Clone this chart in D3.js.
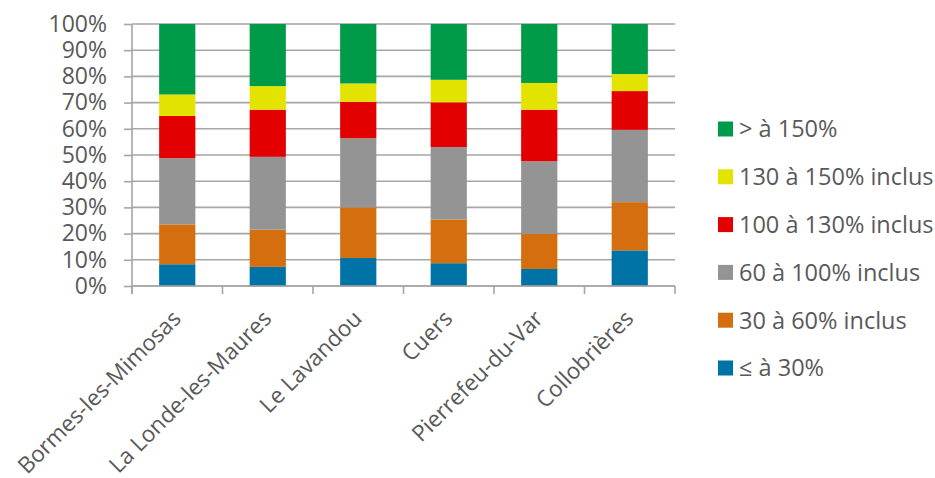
<!DOCTYPE html>
<html>
<head>
<meta charset="utf-8">
<script src="https://cdn.jsdelivr.net/npm/d3@7"></script>
<style>
  html, body { margin: 0; padding: 0; background: #ffffff; }
  svg { display: block; }
  text { font-family: "Open Sans", "Noto Sans", sans-serif; fill: #595959; }
</style>
</head>
<body>
<svg id="chart" width="935" height="478"></svg>
<script>
// Communes shown on the x axis
const categories = ["Bormes-les-Mimosas", "La Londe-les-Maures", "Le Lavandou", "Cuers", "Pierrefeu-du-Var", "Collobrières"];

// Share of each class per commune (in %), stacked bottom to top
const le30      = [8.3, 7.3, 10.7, 8.7, 6.5, 13.6];
const from30    = [15.2, 14.2, 19.3, 16.7, 13.4, 18.4];
const from60    = [25.3, 27.8, 26.4, 27.6, 27.7, 27.6];
const from100   = [16.1, 18.0, 13.9, 17.1, 19.7, 14.8];
const from130   = [8.2, 9.0, 7.0, 8.6, 10.2, 6.5];
const gt150     = [26.9, 23.7, 22.7, 21.3, 22.5, 19.1];

const seriesNames = ["≤ à 30%", "30 à 60% inclus", "60 à 100% inclus", "100 à 130% inclus", "130 à 150% inclus", "> à 150%"];
const seriesValues = [le30, from30, from60, from100, from130, gt150];
const seriesColors = ["#0073A6", "#D46E0E", "#949494", "#E30000", "#E3E300", "#009B48"];

const yTicks = [0, 10, 20, 30, 40, 50, 60, 70, 80, 90, 100];

const svg = d3.select("#chart");
svg.append("rect").attr("width", 935).attr("height", 478).attr("fill", "#ffffff");

const plot = { left: 132, right: 675, top: 24, bottom: 286 };

const x = d3.scaleBand()
  .domain(categories)
  .range([plot.left, plot.right])
  .paddingInner(0.6)
  .paddingOuter(0.3);

const y = d3.scaleLinear()
  .domain([0, 100])
  .range([plot.bottom, plot.top]);

const gridColor = "#A6A6A6";

// Horizontal gridlines
svg.append("g")
  .selectAll("line")
  .data(yTicks)
  .join("line")
  .attr("x1", plot.left)
  .attr("x2", plot.right)
  .attr("y1", d => y(d))
  .attr("y2", d => y(d))
  .attr("stroke", gridColor)
  .attr("stroke-width", 1.6);

// Stacked bars
const rows = categories.map((c, i) => {
  const r = { category: c };
  seriesNames.forEach((s, k) => { r[s] = seriesValues[k][i]; });
  return r;
});
const stacked = d3.stack().keys(seriesNames)(rows);

svg.append("g")
  .selectAll("g")
  .data(stacked)
  .join("g")
  .attr("fill", (d, k) => seriesColors[k])
  .selectAll("rect")
  .data(d => d)
  .join("rect")
  .attr("x", d => x(d.data.category))
  .attr("width", x.bandwidth())
  .attr("y", d => y(d[1]))
  .attr("height", d => y(d[0]) - y(d[1]));

// Y axis with percentage labels
const yAxis = svg.append("g")
  .attr("transform", `translate(${plot.left},0)`)
  .call(d3.axisLeft(y)
    .tickValues(yTicks)
    .tickFormat(d => d + "%")
    .tickSize(8)
    .tickPadding(17));
yAxis.select(".domain").attr("stroke", gridColor).attr("stroke-width", 1.6)
  .attr("d", `M0,${plot.top}V${plot.bottom + 8}`);
yAxis.selectAll(".tick line").attr("stroke", gridColor).attr("stroke-width", 1.6);
yAxis.selectAll(".tick text")
  .attr("font-size", 23)
  .attr("font-family", "\"Open Sans\", sans-serif")
  .attr("fill", "#595959");

// X axis line with ticks at category boundaries
const step = x.step();
const boundaries = categories.map(c => x(c) - step * x.paddingInner() / 2);
boundaries[0] = plot.left;
boundaries.push(plot.right);

svg.append("line")
  .attr("x1", plot.left).attr("x2", plot.right)
  .attr("y1", plot.bottom).attr("y2", plot.bottom)
  .attr("stroke", gridColor).attr("stroke-width", 1.6);

svg.append("g")
  .selectAll("line")
  .data(boundaries)
  .join("line")
  .attr("x1", d => d).attr("x2", d => d)
  .attr("y1", plot.bottom).attr("y2", plot.bottom + 8)
  .attr("stroke", gridColor).attr("stroke-width", 1.6);

// Rotated category labels
svg.append("g")
  .selectAll("text")
  .data(categories)
  .join("text")
  .attr("text-anchor", "end")
  .attr("font-size", 22.5)
  .attr("transform", d => `translate(${x(d) + x.bandwidth() / 2 + 5},${plot.bottom + 34}) rotate(-45)`)
  .text(d => d);

// Legend, top entry is the top of the stack
const legendItems = seriesNames.map((s, k) => ({ name: s, color: seriesColors[k] })).reverse();
const legend = svg.append("g");
const rowY = d3.scalePoint().domain(legendItems.map(d => d.name)).range([129, 368]);

legend.selectAll("rect")
  .data(legendItems)
  .join("rect")
  .attr("x", 718)
  .attr("y", d => rowY(d.name) - 7.5)
  .attr("width", 15)
  .attr("height", 15)
  .attr("fill", d => d.color);

legend.selectAll("text")
  .data(legendItems)
  .join("text")
  .attr("x", 739)
  .attr("y", d => rowY(d.name))
  .attr("dy", "0.36em")
  .attr("font-size", 23.5)
  .text(d => d.name);
</script>
</body>
</html>
